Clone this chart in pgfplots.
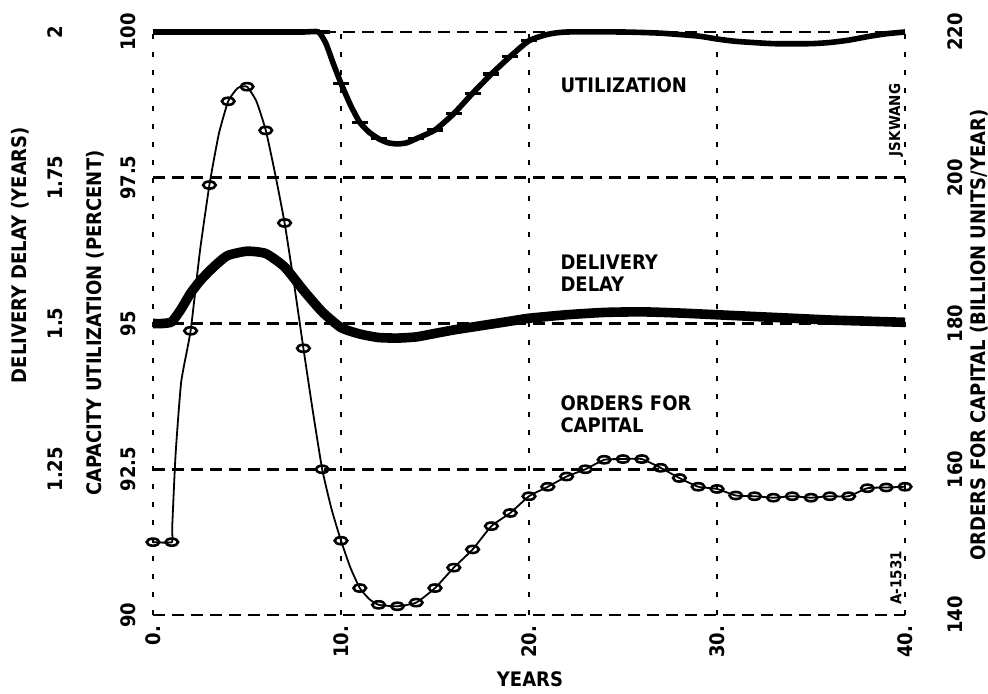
\documentclass[border=0pt]{standalone}
\usepackage{fontspec}
\setmainfont{DejaVu Sans Condensed}[BoldFont={DejaVu Sans Condensed Bold}]
\usepackage{pgfplots}
\pgfplotsset{compat=1.18}
\newcommand{\lf}{\bfseries\fontsize{10}{11}\selectfont}
\begin{document}
\begin{tikzpicture}
\useasboundingbox (-76.5pt,-39pt) rectangle (417.5pt,307.5pt);
\pgfplotsset{base/.style={scale only axis, width=376pt, height=291.5pt, at={(0pt,0pt)}, anchor=south west,
  xmin=0, xmax=40, clip=false, axis line style={draw=none}, major tick length=0pt,
  /pgf/number format/assume math mode=true, ticklabel style={font=\lf}}}
% capacity utilization axis (main)
\begin{axis}[base, ymin=90, ymax=100,
  ytick={90,92.5,95,97.5,100}, yticklabels={90,92.5,95,97.5,100},
  xtick={0,10,20,30,40}, xticklabels={0.,10.,20.,30.,40.},
  xticklabel style={yshift=-2pt, rotate=90, anchor=east},
  yticklabel style={xshift=-12.5pt, rotate=90, anchor=center},
  xmajorgrids, ymajorgrids,
  x grid style={black, line width=1.4pt, dash pattern=on 2.5pt off 6.5pt},
  y grid style={black, line width=1.4pt, dash pattern=on 6pt off 3.5pt}]
\addplot[black, line width=2.8pt, smooth, tension=0.35] coordinates {
(0,100) (2,100) (4,100) (6,100) (8,100) (8.8,100) (9.2,99.8) (9.6,99.45) (10,99.12)
(10.5,98.75) (11,98.45) (11.5,98.28) (12,98.17) (12.5,98.1) (13,98.08) (13.5,98.1)
(14,98.17) (15,98.32) (16,98.6) (17,98.95) (18,99.28) (19,99.58) (20,99.85) (21,99.96)
(22,100) (25,100) (27,99.98) (29,99.93) (30,99.88) (31,99.84) (33,99.8) (35,99.8)
(36,99.82) (37,99.86) (38,99.92) (39,99.97) (40,100)};
\addplot[only marks, mark=-, mark size=4pt, mark options={line width=1.6pt}] coordinates {
(9,100) (10,99.12) (11,98.45) (12,98.17) (13,98.08) (14,98.17) (15,98.32) (16,98.6)
(17,98.95) (18,99.28) (19,99.58) (20,99.85)};
\node[anchor=west, font=\lf] at (axis cs:21.3,99.09) {UTILIZATION};
\node[anchor=west, align=left, font=\lf] at (axis cs:21.3,95.87) {DELIVERY\\DELAY};
\node[anchor=west, align=left, font=\lf] at (axis cs:21.3,93.45) {ORDERS FOR\\CAPITAL};
\end{axis}
% delivery delay axis
\begin{axis}[base, ymin=1, ymax=2,
  ytick={1.25,1.5,1.75,2}, yticklabels={1.25,1.5,1.75,2}, xtick=\empty,
  yticklabel style={xshift=-49pt, rotate=90, anchor=center}]
\addplot[black, line width=4.8pt, smooth, tension=0.35] coordinates {
(0,1.5) (0.5,1.5) (1,1.503) (1.5,1.525) (2,1.552) (2.5,1.573) (3,1.59) (3.5,1.605)
(4,1.617) (5,1.624) (6,1.62) (7,1.597) (8,1.557) (9,1.52) (10,1.493) (11,1.482)
(12,1.476) (13,1.475) (14,1.477) (15,1.483) (16,1.489) (17,1.494) (18,1.499) (19,1.504)
(20,1.509) (22,1.515) (24,1.519) (26,1.52) (28,1.518) (30,1.515) (32,1.512) (34,1.509)
(36,1.506) (38,1.504) (40,1.502)};
\end{axis}
% orders for capital axis
\begin{axis}[base, ymin=140, ymax=220,
  ytick={140,160,180,200,220}, yticklabels={140,160,180,200,220}, yticklabel pos=right,
  xtick=\empty, yticklabel style={xshift=25pt, rotate=90, anchor=center}]
\addplot[black, line width=0.9pt, smooth, tension=0.3] coordinates {
(0,150) (1,150) (1.02,152) (1.2,162) (1.5,172) (2,179) (2.5,190) (3,199) (3.5,206)
(4,210.5) (4.5,212.3) (5,212.5) (5.5,210.5) (6,206.5) (6.5,200.5) (7,193.8) (7.5,185.5)
(8,176.6) (8.5,168) (9,160) (9.5,154.5) (10,150.2) (10.5,146.5) (11,143.7) (11.5,142.2)
(12,141.4) (13,141.2) (14,141.7) (15,143.7) (16,146.5) (17,149) (18,152.2) (19,154)
(20,156.3) (21,157.6) (22,159) (23,160) (24,161.3) (25,161.4) (26,161.4) (27,160.2)
(28,158.8) (29,157.6) (30,157.3) (31,156.4) (32,156.3) (33,156.1) (34,156.3) (35,156.1)
(36,156.3) (37,156.3) (38,157.4) (39,157.5) (40,157.6)};
\addplot[only marks, mark=o, mark size=2.1pt, mark options={xscale=1.5, yscale=0.85, line width=1.3pt}] coordinates {
(0,150) (1,150) (2,179) (3,199) (4,210.5) (5,212.5) (6,206.5) (7,193.8) (8,176.6) (9,160)
(10,150.2) (11,143.7) (12,141.4) (13,141.2) (14,141.7) (15,143.7) (16,146.5) (17,149)
(18,152.2) (19,154) (20,156.3) (21,157.6) (22,159) (23,160) (24,161.3) (25,161.4)
(26,161.4) (27,160.2) (28,158.8) (29,157.6) (30,157.3) (31,156.4) (32,156.3) (33,156.1)
(34,156.3) (35,156.1) (36,156.3) (37,156.3) (38,157.4) (39,157.5) (40,157.6)};
\end{axis}
% axis titles and annotations
\node[rotate=90, font=\lf] at (-29pt,146pt) {CAPACITY UTILIZATION (PERCENT)};
\node[rotate=90, font=\lf] at (-66.5pt,180pt) {DELIVERY DELAY (YEARS)};
\node[rotate=90, font=\lf] at (413pt,140pt) {ORDERS FOR CAPITAL (BILLION UNITS/YEAR)};
\node[font=\lf] at (188.5pt,-32pt) {YEARS};
\node[rotate=90, font=\bfseries\fontsize{7.5}{7.5}\selectfont] at (371.5pt,247.5pt) {JSKWANG};
\node[rotate=90, font=\bfseries\fontsize{7.5}{7.5}\selectfont] at (371.5pt,18.5pt) {A-1531};
\end{tikzpicture}
\end{document}
